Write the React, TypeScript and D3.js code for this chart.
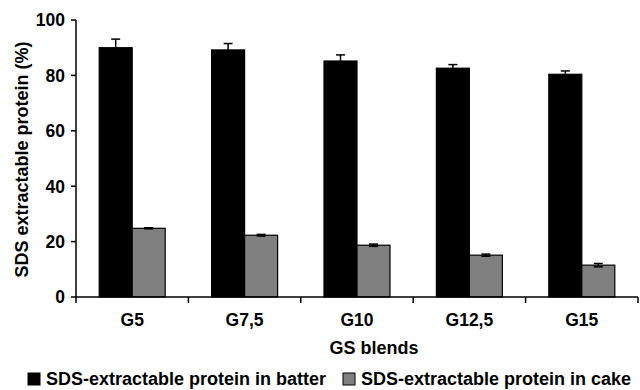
import React from 'react';
import * as d3 from 'd3';

// data
const blends = ['G5', 'G7,5', 'G10', 'G12,5', 'G15'];
const batter = [90.0, 89.2, 85.2, 82.6, 80.4];
const batterErr = [3.1, 2.3, 2.2, 1.3, 1.2];
const cake = [24.8, 22.3, 18.7, 15.1, 11.5];
const cakeErr = [0.2, 0.3, 0.4, 0.4, 0.6];
const yTicks = [0, 20, 40, 60, 80, 100];
const seriesNames = ['SDS-extractable protein in batter', 'SDS-extractable protein in cake'];
const seriesColors = ['#000000', '#808080'];

const W = 640;
const H = 390;
const margin = { top: 20, right: 2, bottom: 93, left: 76 };
const FONT = "'Liberation Sans', Arial, sans-serif";

const App = () => {
  const x = d3.scaleBand<string>()
    .domain(blends)
    .range([margin.left, W - margin.right])
    .paddingInner(0)
    .paddingOuter(0);

  const y = d3.scaleLinear()
    .domain([0, 100])
    .range([H - margin.bottom, margin.top]);

  const barW = 33;
  const series = [
    { vals: batter, errs: batterErr },
    { vals: cake, errs: cakeErr },
  ];

  // band boundaries for the x ticks
  const bounds = blends.map(b => x(b) as number).concat([x.range()[1]]);

  return (
    <svg width={W} height={H} style={{ position: 'absolute', left: 0, top: 0 }} fontFamily={FONT}>
      {/* bars */}
      {series.map((s, si) => (
        <g key={si}>
          {s.vals.map((v, i) => {
            const cx = (x(blends[i]) as number) + x.bandwidth() / 2;
            const bx = cx - barW + si * barW;
            return (
              <rect key={i} x={bx} y={y(v)} width={barW} height={y(0) - y(v)}
                fill={seriesColors[si]} stroke="#000" strokeWidth={1.2} />
            );
          })}
        </g>
      ))}

      {/* error bars */}
      {series.map((s, si) => (
        <g key={'e' + si} stroke="#000" strokeWidth={1.5}>
          {s.vals.map((v, i) => {
            const cx = (x(blends[i]) as number) + x.bandwidth() / 2 - barW / 2 + si * barW;
            const hi = y(v + s.errs[i]);
            const lo = y(v - s.errs[i]);
            return (
              <g key={i}>
                <line x1={cx} x2={cx} y1={hi} y2={lo} />
                <line x1={cx - 4.5} x2={cx + 4.5} y1={hi} y2={hi} />
                <line x1={cx - 4.5} x2={cx + 4.5} y1={lo} y2={lo} />
              </g>
            );
          })}
        </g>
      ))}

      {/* y axis */}
      <line x1={margin.left} x2={margin.left} y1={y(100)} y2={y(0)} stroke="#000" strokeWidth={1.5} />
      {yTicks.map(t => (
        <g key={t}>
          <line x1={margin.left - 5} x2={margin.left} y1={y(t)} y2={y(t)} stroke="#000" strokeWidth={1.5} />
          <text x={margin.left - 11} y={y(t)} dy="0.36em" textAnchor="end"
            fontSize={17.5} fontWeight="bold">{t}</text>
        </g>
      ))}
      <text transform={`translate(28,${(y(0) + y(100)) / 2 + 1}) rotate(-90)`} textAnchor="middle"
        fontSize={18} fontWeight="bold">SDS extractable protein (%)</text>

      {/* x axis */}
      <line x1={margin.left} x2={W - margin.right} y1={y(0)} y2={y(0)} stroke="#000" strokeWidth={1.5} />
      {bounds.map((b, i) => (
        <line key={i} x1={b} x2={b} y1={y(0)} y2={y(0) + 6} stroke="#000" strokeWidth={1.5} />
      ))}
      {blends.map(b => (
        <text key={b} x={(x(b) as number) + x.bandwidth() / 2} y={326} textAnchor="middle"
          fontSize={17.5} fontWeight="bold">{b}</text>
      ))}
      <text x={374} y={354} textAnchor="middle" fontSize={18} fontWeight="bold">GS blends</text>

      {/* legend */}
      {seriesNames.map((n, i) => {
        const lx = i === 0 ? 28 : 343;
        return (
          <g key={n}>
            <rect x={lx} y={373} width={12} height={12} fill={seriesColors[i]} stroke="#000" strokeWidth={1} />
            <text x={lx + 18} y={385} fontSize={18} fontWeight="bold">{n}</text>
          </g>
        );
      })}
    </svg>
  );
};

export default App;
